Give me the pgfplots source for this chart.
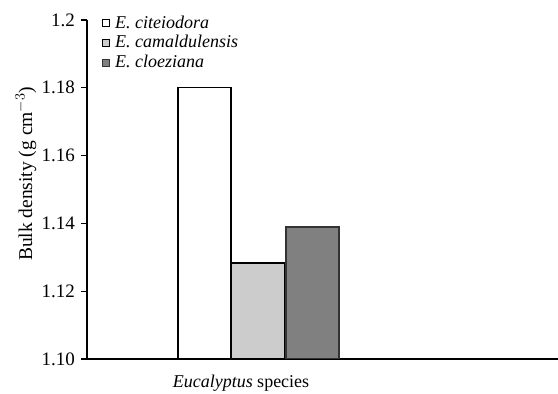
\documentclass[border=0pt]{standalone}
\usepackage{pgfplots}
\pgfplotsset{compat=1.18}
\usepackage{fontspec}
\setmainfont{Liberation Serif}
\definecolor{lg}{HTML}{CCCCCC}
\definecolor{dg}{HTML}{808080}
\begin{document}
\fontsize{18pt}{21pt}\selectfont
\begin{tikzpicture}[x=1pt,y=1pt]
\path[use as bounding box] (0,0) rectangle (558,394);
\begin{axis}[
  at={(87pt,35pt)}, anchor=origin,
  scale only axis, width=471pt, height=339pt,
  xmin=0, xmax=471, ymin=1.10, ymax=1.20,
  axis x line=bottom, axis y line=left,
  axis line style={-, line width=1.6pt},
  ytick={1.10,1.12,1.14,1.16,1.18,1.20},
  yticklabels={1.10,1.12,1.14,1.16,1.18,1.2},
  y tick style={line width=1.2pt, black},
  tick align=outside, major tick length=6pt,
  xtick={154}, xticklabels={\mbox{\textit{Eucalyptus}\ \textup{species}}},
  x tick style={draw=none},
  xticklabel style={yshift=-4pt, font=\fontsize{18pt}{21pt}\selectfont},
  /pgf/number format/assume math mode=true,
  yticklabel style={font=\fontsize{19pt}{22pt}\selectfont},
  ylabel={Bulk density (g cm$^{-3}$)},
  every axis y label/.style={at={(axis description cs:-0.13,0.546)}, rotate=90, anchor=center,
    font=\fontsize{19.5pt}{22pt}\selectfont},
  ybar, bar width=53, bar shift=0pt,
  legend style={draw=none, fill=none, at={(0.025,1.025)}, anchor=north west,
    font=\fontsize{18pt}{20pt}\selectfont\itshape, row sep=0.5pt,
    legend cell align=left},
  legend image code/.code={\draw[#1, line width=1.1pt] (0pt,-3.5pt) rectangle (7pt,3.5pt); \path (10pt,0pt);},
]
\addplot[fill=white, draw=black, line width=1.2pt] coordinates {(117.5,1.180)};
\addlegendentry{E. citeiodora}
\addplot[fill=lg, draw=black, line width=1.4pt] coordinates {(171,1.1283)};
\addlegendentry{E. camaldulensis}
\addplot[fill=dg, draw=black!80, line width=1.4pt] coordinates {(225.5,1.1389)};
\addlegendentry{E. cloeziana}
\end{axis}
\end{tikzpicture}
\end{document}
